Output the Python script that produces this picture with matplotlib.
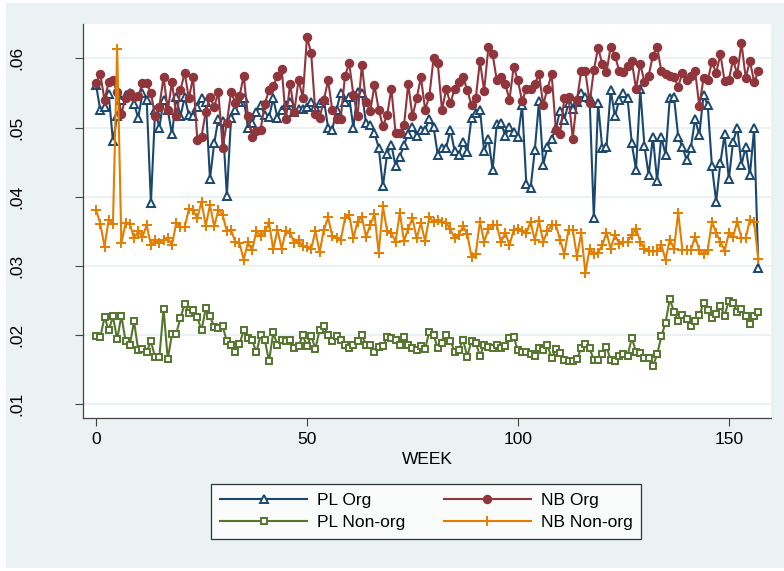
import numpy as np
import matplotlib.pyplot as plt
from matplotlib.patches import Rectangle

# ---------------------------------------------------------------------
# Weekly series, weeks 0..157
# ---------------------------------------------------------------------

pl_org = [
    .0561, .0525, .0530, .0548, .0480, .0516, .0540, .0547, .0550, .0534,
    .0514, .0550, .0540, .0391, .0525, .0500, .0540, .0525, .0490, .0544,
    .0516, .0544, .0518, .0516, .0530, .0542,
    .0537, .0426, .0477, .0513, .0510, .0401, .0514, .0525, .0537, .0542,
    .0500, .0506, .0523, .0532, .0518, .0515, .0542, .0514, .0525, .0532,
    .0537, .0523, .0527, .0527, .0530, .0537,
    .0530, .0535, .0540, .0500, .0497, .0526, .0550, .0537, .0544, .0500,
    .0551, .0550, .0506, .0503, .0492, .0471, .0415, .0462, .0475, .0444,
    .0458, .0475, .0491, .0501, .0488, .0496,
    .0497, .0512, .0501, .0461, .0470, .0471, .0497, .0466, .0461, .0479,
    .0465, .0514, .0521, .0526, .0466, .0484, .0439, .0505, .0507, .0488,
    .0501, .0494, .0486, .0532, .0418, .0412,
    .0467, .0538, .0446, .0472, .0484, .0499, .0524, .0511, .0536, .0527,
    .0537, .0550, .0544, .0542, .0369, .0535, .0470, .0472, .0554, .0516,
    .0540, .0550, .0542, .0477, .0439, .0555, .0473,
    .0431, .0487, .0423, .0487, .0460, .0542, .0544, .0487, .0472, .0453,
    .0471, .0512, .0489, .0547, .0532, .0444, .0393, .0449, .0490, .0425,
    .0479, .0500, .0446, .0472, .0431, .0499, .0297,
]

nb_org = [
    .0564, .0577, .0540, .0566, .0568, .0551, .0520, .0543, .0550, .0544,
    .0545, .0564, .0564, .0550, .0516, .0530, .0573, .0525, .0566, .0516,
    .0554, .0579, .0542, .0573, .0482, .0487,
    .0523, .0544, .0530, .0551, .0471, .0507, .0551, .0536, .0545, .0575,
    .0516, .0487, .0495, .0497, .0534, .0554, .0560, .0575, .0585, .0512,
    .0563, .0523, .0569, .0543, .0631, .0607,
    .0520, .0514, .0540, .0568, .0525, .0512, .0513, .0574, .0593, .0547,
    .0516, .0591, .0537, .0524, .0561, .0526, .0502, .0518, .0556, .0492,
    .0492, .0503, .0563, .0516, .0542, .0573,
    .0526, .0545, .0600, .0593, .0526, .0555, .0535, .0556, .0566, .0573,
    .0554, .0532, .0542, .0596, .0553, .0616, .0606, .0568, .0573, .0563,
    .0540, .0588, .0568, .0538,
    .0556, .0556, .0563, .0577, .0533, .0556, .0577, .0497, .0491, .0542,
    .0544, .0484, .0540, .0581, .0581, .0535, .0583, .0615, .0592, .0580,
    .0617, .0604, .0582, .0580, .0589, .0596, .0556, .0592, .0566,
    .0575, .0604, .0617, .0581, .0578, .0575, .0573, .0559, .0579, .0568,
    .0574, .0582, .0531, .0571, .0568, .0595, .0579, .0606, .0567, .0569,
    .0598, .0577, .0622, .0572, .0596, .0566, .0581,
]

pl_nonorg = [
    .0198, .0197, .0226, .0207, .0227, .0194, .0228, .0191, .0186, .0220,
    .0178, .0180, .0176, .0191, .0168, .0168, .0238, .0165, .0202, .0202,
    .0225, .0245, .0232, .0237, .0226, .0207, .0239, .0227, .0212, .0210,
    .0213, .0191, .0186, .0175, .0187, .0207, .0196, .0193, .0175, .0200,
    .0193, .0162, .0204, .0185, .0193, .0191, .0193, .0181, .0184, .0200,
    .0184, .0199, .0180,
    .0208, .0213, .0200, .0191, .0198, .0193, .0185, .0181, .0186, .0191,
    .0200, .0186, .0186, .0175, .0183, .0184, .0197, .0196, .0193, .0185,
    .0197, .0186, .0181, .0179, .0184, .0180, .0205, .0200, .0181, .0189,
    .0200, .0192, .0176, .0179, .0193, .0169, .0192, .0189, .0170, .0186,
    .0183, .0181, .0186, .0181, .0184, .0196, .0197, .0178, .0176, .0175,
    .0172, .0170, .0181, .0178, .0185, .0167, .0180, .0174, .0164, .0163,
    .0163, .0165, .0181, .0187, .0181, .0164, .0164, .0172, .0183, .0164,
    .0162, .0170, .0172, .0170, .0196, .0176, .0174, .0167, .0167, .0155,
    .0172, .0198, .0218, .0252, .0234, .0220, .0229, .0223, .0213, .0220,
    .0229, .0246, .0236, .0225, .0231, .0242, .0228, .0250, .0246, .0233,
    .0238, .0227, .0216, .0228, .0233,
]

nb_nonorg = [
    .0381, .0361, .0328, .0367, .0361, .0614, .0333, .0362, .0361, .0340,
    .0350, .0342, .0359, .0330, .0337, .0333, .0338, .0340, .0330, .0362,
    .0356, .0356, .0382, .0381, .0369, .0393,
    .0358, .0388, .0357, .0381, .0374, .0350, .0352, .0335, .0333, .0309,
    .0334, .0323, .0350, .0343, .0350, .0362, .0324, .0352, .0325, .0351,
    .0348, .0333, .0337, .0329, .0327, .0325,
    .0350, .0320, .0352, .0370, .0343, .0341, .0337, .0369, .0374, .0340,
    .0364, .0371, .0342, .0359, .0375, .0319, .0386, .0350, .0347, .0335,
    .0377, .0336, .0354, .0369, .0340, .0362,
    .0336, .0371, .0363, .0366, .0364, .0362, .0353, .0340, .0345, .0357,
    .0346, .0313, .0317, .0364, .0335, .0353, .0359, .0359, .0334, .0348,
    .0330, .0352, .0353, .0351,
    .0347, .0364, .0337, .0365, .0335, .0350, .0359, .0359, .0338, .0317,
    .0352, .0352, .0314, .0347, .0290, .0325, .0317, .0319, .0330, .0348,
    .0325, .0345, .0332, .0334, .0335, .0345,
    .0354, .0335, .0325, .0321, .0321, .0321, .0330, .0309, .0338, .0325,
    .0377, .0323, .0323, .0323, .0342, .0323, .0317, .0323, .0364, .0348,
    .0335, .0322, .0347, .0342, .0364, .0340, .0340, .0367, .0363, .0310,
]

week = np.arange(len(pl_org))

y_ticks = [.01, .02, .03, .04, .05, .06]
y_labels = [".01", ".02", ".03", ".04", ".05", ".06"]
x_ticks = [0, 50, 100, 150]

# ---------------------------------------------------------------------
# Plot
# ---------------------------------------------------------------------

plt.rcParams["font.family"] = ["Liberation Sans", "DejaVu Sans"]

bg = "#eaf2f3"
fig = plt.figure(figsize=(7.84, 5.71), dpi=100, facecolor="white")
fig.patches.append(Rectangle((6 / 784, 3 / 571), 1, 565 / 571,
                             transform=fig.transFigure, facecolor=bg,
                             edgecolor="none", zorder=-10))

ax = fig.add_axes([83 / 784, 153 / 571, 688 / 784, 394 / 571])
ax.set_facecolor("white")

ax.plot(week, pl_org, color="#1a476f", lw=1.5, marker="^", ms=5.5,
        mfc="white", mec="#1a476f", mew=1.4, label="PL Org")
ax.plot(week, nb_org, color="#90353b", lw=1.5, marker="o", ms=5.8,
        mfc="#90353b", mec="#90353b", label="NB Org")
ax.plot(week, pl_nonorg, color="#55752f", lw=1.5, marker="s", ms=5,
        mfc="white", mec="#55752f", mew=1.4, label="PL Non-org")
ax.plot(week, nb_nonorg, color="#e37e00", lw=1.5, marker="+", ms=7.5,
        mew=1.4, label="NB Non-org")

ax.set_xlim(-3.1, 160)
ax.set_ylim(0.00802, 0.06496)

ax.set_yticks(y_ticks)
ax.set_yticklabels(y_labels, rotation=90, va="center")
ax.set_xticks(x_ticks)
ax.grid(axis="y", color=bg, lw=1.4)
ax.set_axisbelow(True)

for side in ["top", "right"]:
    ax.spines[side].set_visible(False)
for side in ["left", "bottom"]:
    ax.spines[side].set_color("#444444")
    ax.spines[side].set_linewidth(0.9)

ax.tick_params(axis="y", length=6, width=0.8, color="#444444",
               labelsize=12.5, pad=36)
ax.tick_params(axis="x", length=6, width=0.8, color="#444444",
               labelsize=12.5, pad=4)

ax.set_xlabel("WEEK", fontsize=12.5, labelpad=4)

h, l = ax.get_legend_handles_labels()
order = [0, 2, 1, 3]
leg = fig.legend([h[i] for i in order], [l[i] for i in order],
                 loc="center", bbox_to_anchor=(0.544, 0.104), ncol=2,
                 fontsize=12.5, handlelength=5, handletextpad=0.6,
                 frameon=True, fancybox=False, edgecolor="black",
                 columnspacing=2.2, borderpad=0.5, labelspacing=0.4)
leg.get_frame().set_linewidth(0.9)

fig.savefig("out.png", dpi=100, facecolor=fig.get_facecolor())
